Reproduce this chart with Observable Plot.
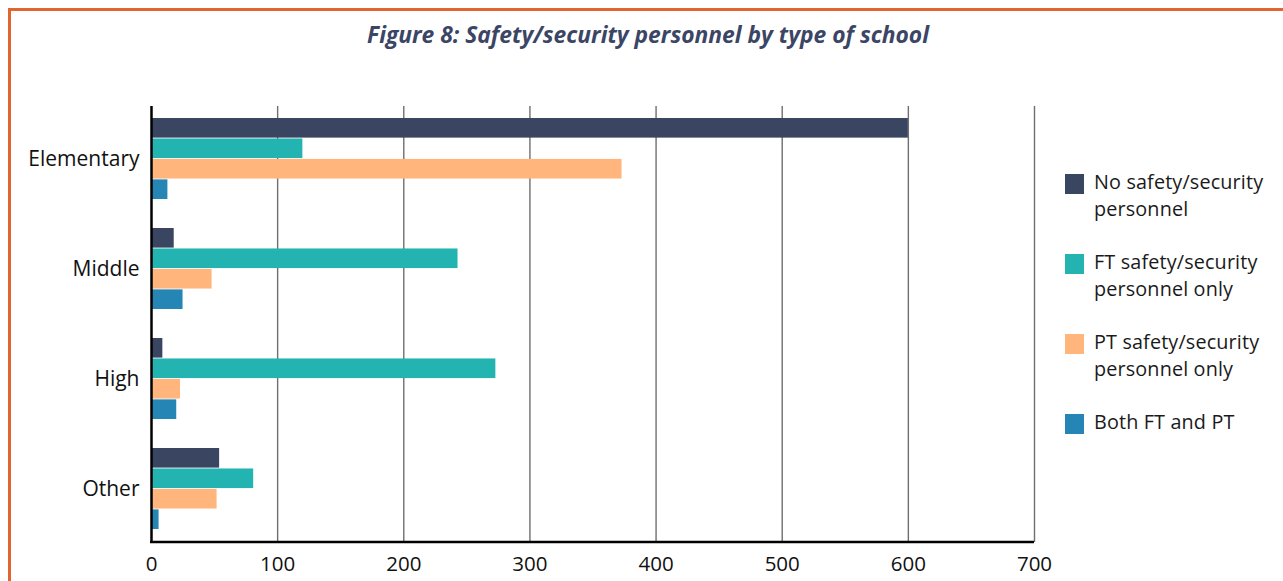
<!DOCTYPE html>
<html>
<head>
<meta charset="utf-8">
<script src="https://cdn.jsdelivr.net/npm/d3@7"></script>
<script src="https://cdn.jsdelivr.net/npm/@observablehq/plot@0.6"></script>
<style>
  html, body { margin: 0; padding: 0; background: #fff; }
  #wrap { position: relative; width: 1283px; height: 581px; overflow: hidden; font-family: "Open Sans", sans-serif; }
  #frame { position: absolute; left: 8px; top: 8px; width: 1400px; height: 700px; border-left: 3px solid #e2652f; border-top: 3px solid #e2652f; box-sizing: border-box; }
  #title { position: absolute; left: 0; width: 1296px; top: 19px; text-align: center; font-style: italic; font-weight: 700; font-size: 22.8px; color: #3b4565; }
  #chart { position: absolute; left: 0; top: 0; }
  #legend { position: absolute; left: 1065px; top: 172px; }
  .item { position: relative; height: 80px; }
  .sw { position: absolute; left: 0; top: 2px; width: 19px; height: 20px; }
  .lab { position: absolute; left: 29px; top: -4px; color: #1a1a1a; white-space: nowrap; }
  .ln { display: block; height: 27px; font-size: 19.8px; letter-spacing: 0.15px; line-height: 27px; overflow: visible; }
</style>
</head>
<body>
<div id="wrap">
  <div id="frame"></div>
  <div id="title">Figure 8: Safety/security personnel by type of school</div>
  <div id="chart"></div>
  <div id="legend"></div>
</div>
<script>
const schoolTypes = ["Elementary", "Middle", "High", "Other"];
const seriesNames = ["No safety/security personnel", "FT safety/security personnel only", "PT safety/security personnel only", "Both FT and PT"];
const legendLines = [["No safety/security", "personnel"], ["FT safety/security", "personnel only"], ["PT safety/security", "personnel only"], ["Both FT and PT"]];
const noPersonnel = [600, 18, 9, 54];
const ftOnly = [120, 243, 273, 81];
const ptOnly = [373, 48, 23, 52];
const bothFtPt = [13, 25, 20, 6];
const seriesColors = ["#3a4562", "#23b3b0", "#ffb57b", "#2585b4"];
const xTicks = [0, 100, 200, 300, 400, 500, 600, 700];

const seriesValues = [noPersonnel, ftOnly, ptOnly, bothFtPt];
const data = schoolTypes.flatMap((t, i) => seriesNames.map((s, j) => ({type: t, series: s, idx: j, value: seriesValues[j][i]})));

const W = 1040, H = 581, mTop = 106, mBottom = 39, mLeft = 151, mRight = 6;
const pIn = 0.261, pOut = 0.099;
const step = (H - mTop - mBottom) / (schoolTypes.length - pIn + 2 * pOut);
const sub = step * (1 - pIn) / seriesNames.length;

const marks = [
  Plot.ruleX(xTicks.filter(t => t > 0), {stroke: "#6f6f6f", strokeWidth: 1.4})
];
seriesNames.forEach((s, j) => {
  marks.push(Plot.barX(data.filter(d => d.idx === j), {
    x: "value", y: "type", fill: seriesColors[j],
    insetTop: j * sub, insetBottom: (seriesNames.length - 1 - j) * sub
  }));
});
marks.push(Plot.ruleX([0], {stroke: "#000", strokeWidth: 2.5}));
marks.push(Plot.axisX({ticks: xTicks, tickSize: 0, tickPadding: 14, fontSize: 20.5, fill: "#111"}));
marks.push(Plot.axisY({tickSize: 0, tickPadding: 12, fontSize: 21, fill: "#111"}));

const chart = Plot.plot({
  width: W, height: H,
  marginTop: mTop, marginBottom: mBottom, marginLeft: mLeft, marginRight: mRight,
  style: {fontFamily: "'Open Sans', sans-serif", background: "transparent", overflow: "visible"},
  x: {domain: [0, 700], label: null},
  y: {domain: schoolTypes, paddingInner: pIn, paddingOuter: pOut, label: null},
  marks
});
document.getElementById("chart").appendChild(chart);

// bottom axis line
const xs = chart.scale("x");
d3.select(chart).append("line")
  .attr("x1", xs.range[0] - 1).attr("x2", xs.range[1])
  .attr("y1", H - mBottom).attr("y2", H - mBottom)
  .attr("stroke", "#000").attr("stroke-width", 2.5);

// legend
const legend = d3.select("#legend");
seriesNames.forEach((s, j) => {
  const it = legend.append("div").attr("class", "item");
  it.append("div").attr("class", "sw").style("background", seriesColors[j]);
  const lab = it.append("div").attr("class", "lab");
  legendLines[j].forEach(line => lab.append("span").attr("class", "ln").text(line));
});
</script>
</body>
</html>
